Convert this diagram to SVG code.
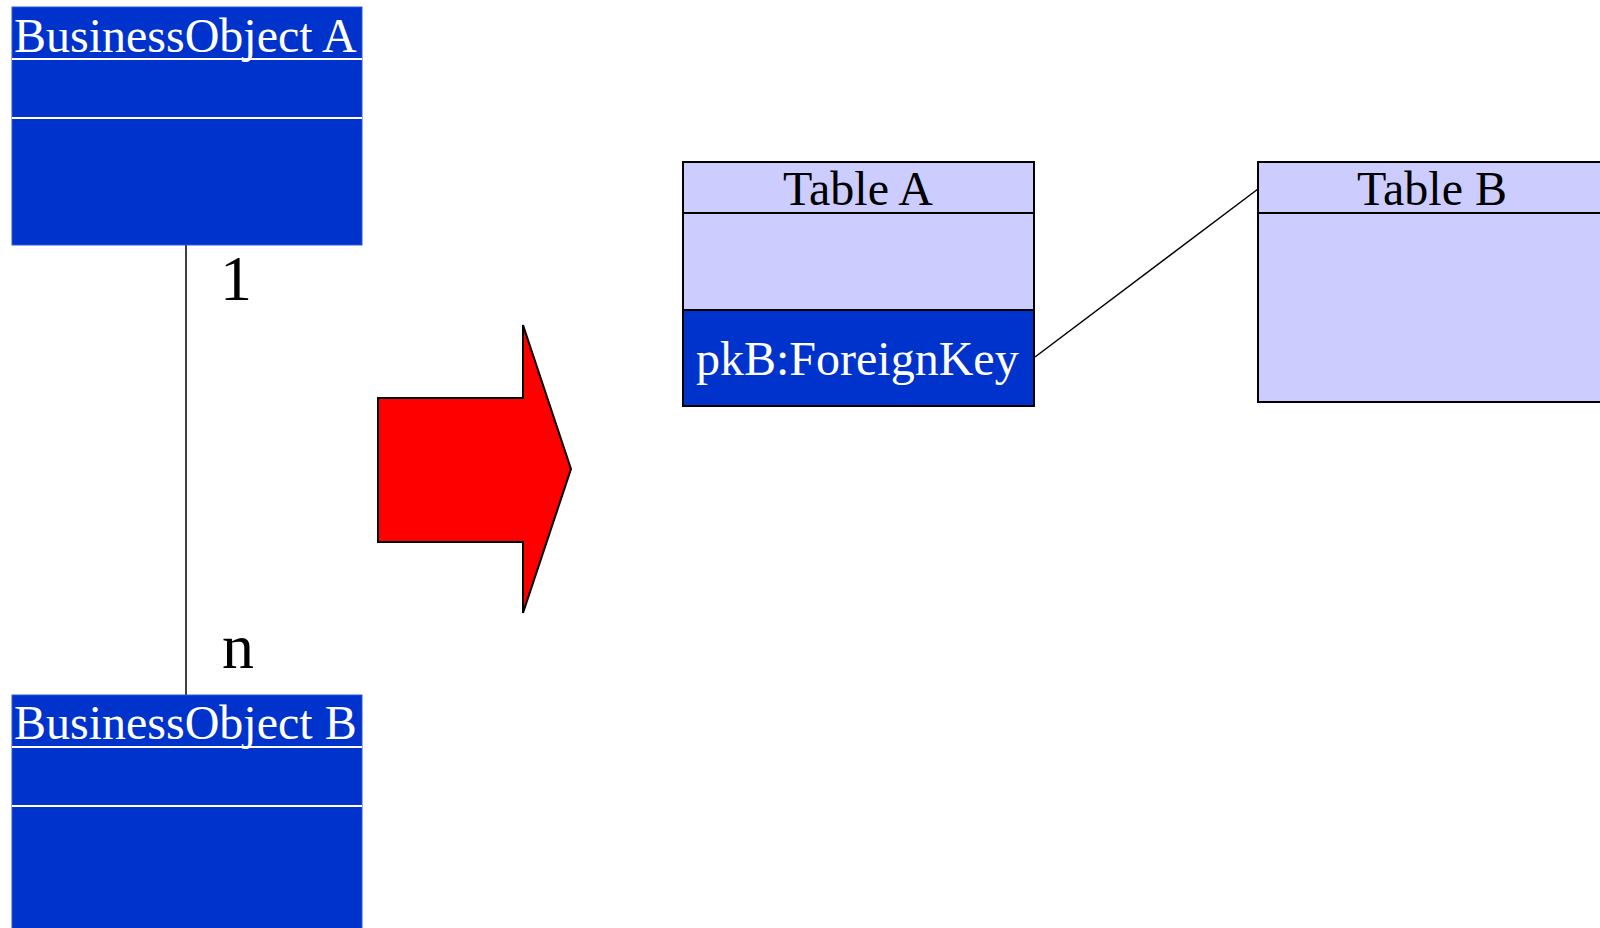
<svg xmlns="http://www.w3.org/2000/svg" width="1600" height="928" viewBox="0 0 1600 928">
<style>
.t{font-family:"Liberation Serif","Times New Roman",serif;font-size:48px}
.w{fill:#ffffff}
.k{fill:#000000}
.bo{fill:#0033cc;stroke:#3355dd;stroke-width:1}
.sepw{stroke:#ffffff;stroke-width:2}
.tb{fill:#ccccff;stroke:#000000;stroke-width:2}
.sepk{stroke:#000000;stroke-width:2}
.conn{stroke:#000000;stroke-width:1.5;fill:none}
</style>
<rect width="1600" height="928" fill="#ffffff"/>
<g id="connectors">
<line class="conn" x1="186" y1="245" x2="186" y2="695"/>
<line class="conn" x1="1035" y1="357" x2="1258" y2="189"/>
<text class="t k" x="236" y="300" font-size="64" text-anchor="middle" style="font-size:64px">1</text>
<text class="t k" x="238" y="668" text-anchor="middle" style="font-size:64px">n</text>
</g>
<g id="boA">
<rect class="bo" x="12" y="7" width="350" height="238"/>
<line class="sepw" x1="12" y1="59" x2="362" y2="59"/>
<line class="sepw" x1="12" y1="118" x2="362" y2="118"/>
<text class="t w" x="14" y="52">BusinessObject A</text>
</g>
<g id="boB">
<rect class="bo" x="12" y="695" width="350" height="240"/>
<line class="sepw" x1="12" y1="747" x2="362" y2="747"/>
<line class="sepw" x1="12" y1="806" x2="362" y2="806"/>
<text class="t w" x="14" y="739">BusinessObject B</text>
</g>
<g id="arrow">
<polygon points="378,398 523,398 523,325 571,469 523,613 523,542 378,542" fill="#ff0000" stroke="#000000" stroke-width="2"/>
</g>
<g id="tableA">
<rect class="tb" x="683" y="162" width="351" height="244"/>
<rect x="683" y="310" width="351" height="96" fill="#0033cc" stroke="#000000" stroke-width="2"/>
<line class="sepk" x1="683" y1="213" x2="1034" y2="213"/>
<text class="t k" x="858" y="205" text-anchor="middle">Table A</text>
<text class="t w" x="696" y="375">pkB:ForeignKey</text>
</g>
<g id="tableB">
<rect class="tb" x="1258" y="162" width="360" height="240"/>
<line class="sepk" x1="1258" y1="213" x2="1618" y2="213"/>
<text class="t k" x="1432" y="205" text-anchor="middle">Table B</text>
</g>
</svg>
